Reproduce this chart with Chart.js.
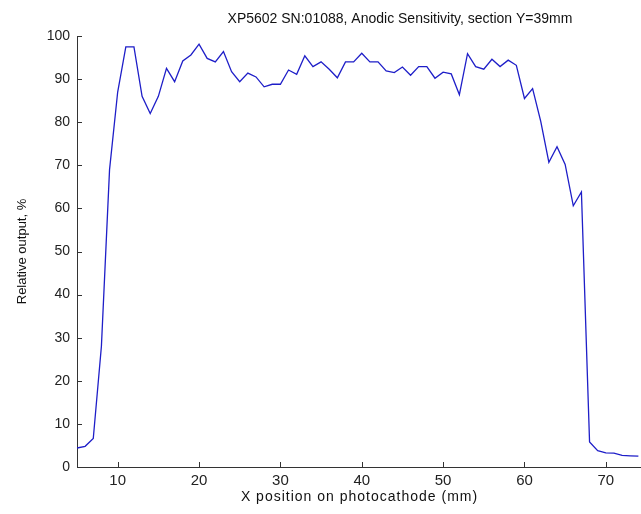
<!DOCTYPE html>
<html>
<head>
<meta charset="utf-8">
<script src="https://cdn.jsdelivr.net/npm/chart.js@4"></script>
<style>
  html, body { margin: 0; padding: 0; background: #fff; overflow: hidden; }
  #wrap { width: 641px; height: 514px; }
</style>
</head>
<body>
<div id="wrap"><canvas id="chartSection"></canvas></div>
<script>
const chartTitle = "XP5602 SN:01088, Anodic Sensitivity, section Y=39mm";
const xTitle = "X position on photocathode (mm)";
const yTitle = "Relative output, %";

// x position, mm (one sample per mm)
const xPos = [5, 6, 7, 8, 9, 10, 11, 12, 13, 14, 15, 16, 17, 18, 19, 20, 21, 22, 23, 24,
  25, 26, 27, 28, 29, 30, 31, 32, 33, 34, 35, 36, 37, 38, 39, 40, 41, 42, 43, 44,
  45, 46, 47, 48, 49, 50, 51, 52, 53, 54, 55, 56, 57, 58, 59, 60, 61, 62, 63, 64,
  65, 66, 67, 68, 69, 70, 71, 72, 73, 74];
// relative output, %
const output = [4.4, 4.8, 6.6, 28, 69, 87, 97.5, 97.5, 86.0, 82.0, 86.0, 92.5, 89.4, 94.2, 95.6, 98.1, 94.8, 94.0, 96.4, 91.7,
  89.4, 91.4, 90.5, 88.2, 88.8, 88.8, 92.1, 91.1, 95.4, 92.9, 94.0, 92.3, 90.3, 94.0, 94.0, 96.0, 94.0, 94.0, 91.9, 91.5,
  92.8, 90.9, 92.9, 92.9, 90.2, 91.6, 91.2, 86.4, 95.9, 92.9, 92.3, 94.6, 92.9, 94.4, 93.2, 85.5, 87.8, 80.2, 70.7, 74.3,
  70.2, 60.6, 63.8, 5.8, 3.8, 3.3, 3.2, 2.7, 2.6, 2.5];

const xTicks = [10, 20, 30, 40, 50, 60, 70];
const yTicks = [0, 10, 20, 30, 40, 50, 60, 70, 80, 90, 100];

const fontFamily = "'Liberation Sans', Arial, sans-serif";
const axisColor = "#333";

// matlab style: tick marks pointing into the plot, title and x label drawn by hand
const inwardTicks = {
  id: "inwardTicks",
  afterDraw(chart) {
    const ctx = chart.ctx;
    const x = chart.scales.x;
    const y = chart.scales.y;
    const area = chart.chartArea;
    ctx.save();
    ctx.strokeStyle = axisColor;
    ctx.lineWidth = 1;
    ctx.beginPath();
    xTicks.forEach(v => {
      const px = Math.round(x.getPixelForValue(v)) + 0.5;
      ctx.moveTo(px, area.bottom);
      ctx.lineTo(px, area.bottom - 5);
    });
    yTicks.forEach(v => {
      const py = Math.round(y.getPixelForValue(v)) + 0.5;
      ctx.moveTo(area.left, py);
      ctx.lineTo(area.left + 5, py);
    });
    ctx.stroke();

    ctx.fillStyle = "#111";
    ctx.font = "14px " + fontFamily;
    ctx.textAlign = "center";
    ctx.textBaseline = "middle";
    ctx.fillText(chartTitle, 400, 19);

    ctx.letterSpacing = "1px";
    ctx.fillText(xTitle, (area.left + area.right) / 2 + 1, 497);
    ctx.restore();
  }
};

const data = {
  labels: xPos,
  datasets: [{
    data: xPos.map((v, i) => ({x: v, y: output[i]})),
    borderColor: "rgb(30, 30, 200)",
    borderWidth: 1.3,
    pointRadius: 0,
    tension: 0,
    fill: false
  }]
};

const ctx = document.getElementById("chartSection").getContext("2d");
const sectionChart = new Chart(ctx, {
  type: "line",
  data: data,
  options: {
    responsive: true,
    maintainAspectRatio: false,
    animation: false,
    layout: { padding: { left: 0, right: 1, top: 36, bottom: 0 } },
    plugins: {
      legend: { display: false },
      tooltip: { enabled: false }
    },
    scales: {
      x: {
        type: "linear",
        min: 5,
        max: 74.2,
        afterBuildTicks: (scale) => { scale.ticks = xTicks.map(v => ({value: v})); },
        afterFit: (scale) => { scale.height = 47; },
        grid: { display: false, drawTicks: false },
        border: { display: true, color: axisColor, width: 1 },
        ticks: { color: "#222", padding: 5, maxRotation: 0, font: { family: fontFamily, size: 15 } }
      },
      y: {
        min: 0,
        max: 100,
        afterBuildTicks: (scale) => { scale.ticks = yTicks.map(v => ({value: v})); },
        afterFit: (scale) => { scale.width = 77; },
        grid: { display: false, drawTicks: false },
        border: { display: true, color: axisColor, width: 1 },
        ticks: { color: "#222", padding: 7, font: { family: fontFamily, size: 14 } },
        title: {
          display: true, text: yTitle, color: "#111",
          font: { family: fontFamily, size: 13 },
          padding: { top: 15, bottom: 0 }
        }
      }
    }
  },
  plugins: [inwardTicks]
});
</script>
</body>
</html>
